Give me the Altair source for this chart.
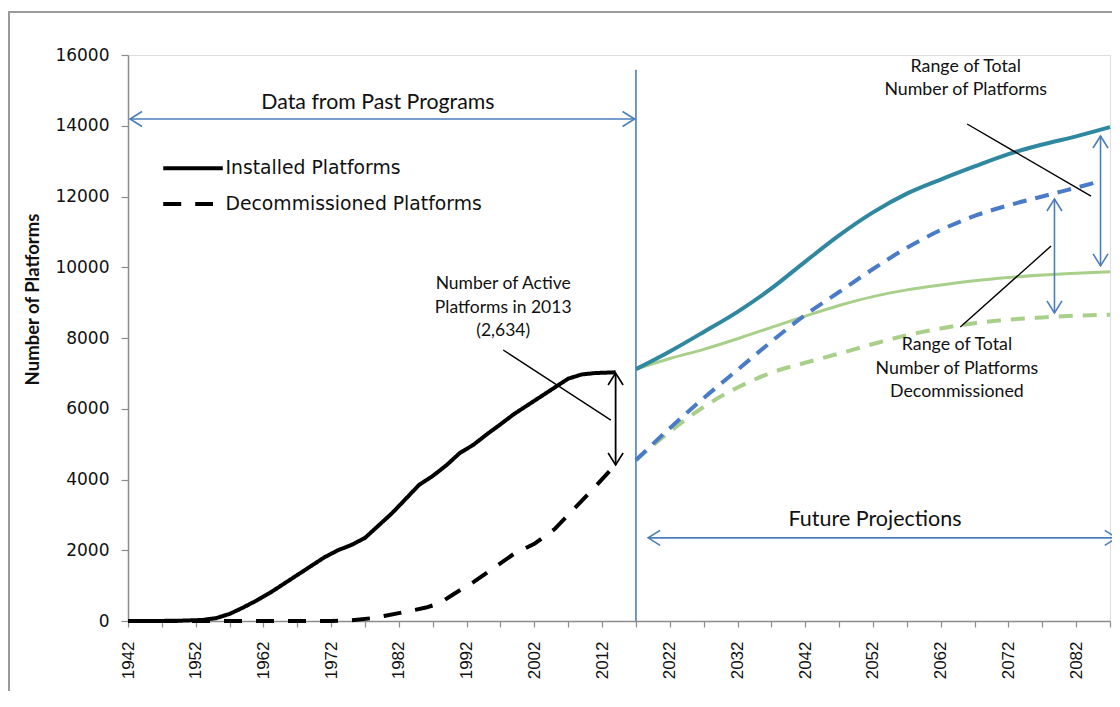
import altair as alt
import pandas as pd

# ---------------- data ----------------
inst_years = [1942, 1946, 1950, 1953, 1955, 1957, 1959, 1961, 1963, 1965, 1967, 1969, 1971, 1973,
              1975, 1977, 1979, 1981, 1983, 1985, 1987, 1989, 1991, 1993, 1995, 1997, 1999, 2001,
              2003, 2005, 2007, 2009, 2011, 2014]
inst_vals = [0, 0, 10, 30, 80, 200, 380, 580, 800, 1050, 1300, 1550, 1800, 2000,
             2150, 2350, 2700, 3050, 3450, 3850, 4100, 4400, 4750, 4980, 5280, 5560, 5850, 6100,
             6350, 6600, 6850, 6970, 7010, 7030]

dec_years = [1942, 1972, 1975, 1978, 1980, 1983, 1986, 1988, 1990, 1993, 1996, 1999, 2002,
             2005, 2008, 2011, 2014]
dec_vals = [0, 0, 20, 80, 150, 260, 380, 500, 750, 1100, 1500, 1900, 2180,
            2600, 3200, 3800, 4420]

proj_years = [2017, 2022, 2027, 2032, 2037, 2042, 2047, 2052, 2057, 2062, 2067, 2072, 2077, 2082, 2087]
high_inst = [7120, 7620, 8170, 8740, 9400, 10160, 10900, 11550, 12080, 12480, 12850, 13200, 13470, 13700, 13960]
low_inst = [7120, 7420, 7680, 7980, 8300, 8620, 8920, 9170, 9360, 9500, 9620, 9710, 9780, 9830, 9870]
high_dec_years = [2017, 2022, 2027, 2032, 2037, 2042, 2047, 2052, 2057, 2062, 2067, 2072, 2077, 2082, 2085]
high_dec = [4550, 5450, 6300, 7100, 7900, 8650, 9300, 9950, 10550, 11050, 11450, 11750, 12000, 12250, 12400]
low_dec = [4550, 5350, 6050, 6600, 7020, 7300, 7560, 7830, 8080, 8270, 8420, 8520, 8580, 8630, 8660]

series_names = ["Installed Platforms", "Decommissioned Platforms"]

x_ticks = list(range(1942, 2088, 5))
y_ticks = list(range(0, 16001, 2000))

# legend entries (drawn inside the plot, in data coordinates)
legend_x = [1947.2, 1947.2]
legend_x2 = [1956.0, 1954.55]
legend_y = [12800, 11790]
legend_text_x = [1956.4, 1956.4]

# annotation geometry (data coordinates)
rule_x = [1942.3, 2018.8, 2014.0, 2085.6, 2078.8, 2017.0, 1997.4, 2065.9, 2078.3]
rule_x2 = [2016.8, 2088.0, 2014.0, 2085.6, 2078.8, 2017.0, 2013.3, 2084.2, 2064.9]
rule_y = [14190, 2350, 7010, 13710, 11930, 0, 7660, 14050, 10600]
rule_y2 = [14190, 2350, 4410, 10040, 8710, 15580, 5680, 12010, 8310]
rule_col = ["#4a7ebb", "#4a7ebb", "#000000", "#4a7ebb", "#4a7ebb", "#4a7ebb", "#000000", "#000000", "#000000"]
rule_w = [1.6, 1.6, 1.8, 1.6, 1.6, 1.6, 1.4, 1.4, 1.4]

LEFT = "M1.6,-1L0,0L1.6,1"
RIGHT = "M-1.6,-1L0,0L-1.6,1"
UP = "M-1,1.6L0,0L1,1.6"
DOWN = "M-1,-1.6L0,0L1,-1.6"
head_x = [1942.3, 2016.8, 2018.8, 2088.0, 2014.0, 2014.0, 2085.6, 2085.6, 2078.8, 2078.8]
head_y = [14190, 14190, 2350, 2350, 7010, 4410, 13710, 10040, 11930, 8710]
head_shape = [LEFT, RIGHT, LEFT, RIGHT, UP, DOWN, UP, DOWN, UP, DOWN]
head_col = ["#4a7ebb", "#4a7ebb", "#4a7ebb", "#4a7ebb", "#000000", "#000000",
            "#4a7ebb", "#4a7ebb", "#4a7ebb", "#4a7ebb"]

small_text = ["Number of Active\nPlatforms in 2013\n(2,634)",
              "Range of Total\nNumber of Platforms",
              "Range of Total\nNumber of Platforms\nDecommissioned"]
small_x = [1997.4, 2065.7, 2064.4]
small_y = [9526, 15661, 7802]
small_fs = [17.5, 17.8, 17.8]

big_text = ["Data from Past Programs", "Future Projections"]
big_x = [1978.9, 2052.3]
big_y = [14643, 2855]
big_fs = [21.3, 21.5]

# ---------------- tables ----------------
hist_df = pd.concat([
    pd.DataFrame({"year": inst_years, "value": inst_vals, "series": series_names[0]}),
    pd.DataFrame({"year": dec_years, "value": dec_vals, "series": series_names[1]}),
])
hi_df = pd.DataFrame({"year": proj_years, "value": high_inst})
lo_df = pd.DataFrame({"year": proj_years, "value": low_inst})
hd_df = pd.DataFrame({"year": high_dec_years, "value": high_dec})
ld_df = pd.DataFrame({"year": proj_years, "value": low_dec})
leg_df = pd.DataFrame({"x": legend_x, "x2": legend_x2, "y": legend_y, "tx": legend_text_x,
                       "series": series_names})
rule_df = pd.DataFrame({"x": rule_x, "x2": rule_x2, "y": rule_y, "y2": rule_y2,
                        "c": rule_col, "w": rule_w})
head_df = pd.DataFrame({"x": head_x, "y": head_y, "shape": head_shape, "c": head_col})
small_df = pd.DataFrame({"x": small_x, "y": small_y, "t": small_text, "fs": small_fs})
big_df = pd.DataFrame({"x": big_x, "y": big_y, "t": big_text, "fs": big_fs})

# ---------------- scales ----------------
xscale = alt.Scale(domain=[1942, 2087], nice=False, zero=False)
yscale = alt.Scale(domain=[0, 16000], nice=False)
dash_scale = alt.Scale(domain=series_names, range=[[1, 0], [18, 14]])

x_axis = alt.Axis(values=x_ticks, labelExpr="(datum.value - 1942) % 10 == 0 ? datum.value : ''",
                  labelAngle=270, labelFont="Liberation Sans", labelFontSize=17, labelColor="#111",
                  tickColor="#8c8c8c", domainColor="#8c8c8c", tickSize=6, labelPadding=14,
                  domainWidth=1.5, tickWidth=1.2, grid=False, title=None, labelFlush=False,
                  labelOverlap=False)
y_axis = alt.Axis(values=y_ticks, format="d", labelFont="DejaVu Sans", labelFontSize=17,
                  labelColor="#111", tickColor="#8c8c8c", domainColor="#8c8c8c", tickSize=7,
                  labelPadding=12, domainWidth=1.5, tickWidth=1.2, grid=False,
                  title="Number of Platforms", titleFont="Lato", titleFontSize=18.5,
                  titleFontWeight="bold", titleColor="#111", titleAngle=270, titleX=-96,
                  titleY=244, titleAlign="center", titleBaseline="middle")


def X(f="year"):
    return alt.X(f"{f}:Q", scale=xscale, axis=x_axis)


def Y(f="value"):
    return alt.Y(f"{f}:Q", scale=yscale, axis=y_axis)


frame = alt.Chart(pd.DataFrame({"a": [0]})).mark_rect(
    fillOpacity=0, stroke="#9a9a9a", strokeWidth=2, clip=False
).encode(x=alt.value(-119), x2=alt.value(1000), y=alt.value(-43), y2=alt.value(700))

green_solid = alt.Chart(lo_df).mark_line(color="#a9d08a", strokeWidth=3, interpolate="monotone").encode(
    x=X(), y=Y())
green_dash = alt.Chart(ld_df).mark_line(color="#a9d08a", strokeWidth=4, strokeDash=[14, 10],
                                        interpolate="monotone").encode(x=X(), y=Y())
blue_dash = alt.Chart(hd_df).mark_line(color="#4a7bc8", strokeWidth=4, strokeDash=[14, 9],
                                       interpolate="monotone").encode(x=X(), y=Y())
teal = alt.Chart(hi_df).mark_line(color="#2f88a0", strokeWidth=4, interpolate="monotone").encode(
    x=X(), y=Y())

hist = alt.Chart(hist_df).mark_line(color="black", strokeWidth=4).encode(
    x=X(), y=Y(),
    strokeDash=alt.StrokeDash("series:N", scale=dash_scale, sort=series_names, legend=None),
)

leg_lines = alt.Chart(leg_df).mark_rule(color="black", strokeWidth=4).encode(
    x=X("x"), x2="x2:Q", y=Y("y"),
    strokeDash=alt.StrokeDash("series:N", scale=dash_scale, sort=series_names, legend=None),
)
leg_text = alt.Chart(leg_df).mark_text(font="DejaVu Sans", fontSize=18.8, align="left",
                                       baseline="middle", color="#111").encode(
    x=X("tx"), y=Y("y"), text="series:N")

rules = alt.Chart(rule_df).mark_rule(clip=False).encode(
    x=X("x"), x2="x2:Q", y=Y("y"), y2="y2:Q",
    color=alt.Color("c:N", scale=None), strokeWidth=alt.StrokeWidth("w:Q", scale=None))

heads = alt.Chart(head_df).mark_point(filled=False, size=225, strokeWidth=1.6, opacity=1,
                                      clip=False).encode(
    x=X("x"), y=Y("y"),
    shape=alt.Shape("shape:N", scale=None), color=alt.Color("c:N", scale=None))

small = alt.Chart(small_df).mark_text(font="Lato", lineBreak="\n", lineHeight=23.5, align="center",
                                      baseline="middle", color="#111").encode(
    x=X("x"), y=Y("y"), text="t:N", size=alt.Size("fs:Q", scale=None))

big = alt.Chart(big_df).mark_text(font="Lato", align="center", baseline="middle", color="#111").encode(
    x=X("x"), y=Y("y"), text="t:N", size=alt.Size("fs:Q", scale=None))

chart = alt.layer(
    frame, green_solid, green_dash, blue_dash, teal, hist, leg_lines, leg_text,
    rules, heads, small, big
).properties(
    width=982, height=566,
    autosize=alt.AutoSizeParams(type="none"),
    padding={"left": 120, "top": 47, "right": 2, "bottom": 70},
).configure_view(stroke=None).configure(background="white")

chart.save("out.html", embed_options={"renderer": "svg", "actions": False})
